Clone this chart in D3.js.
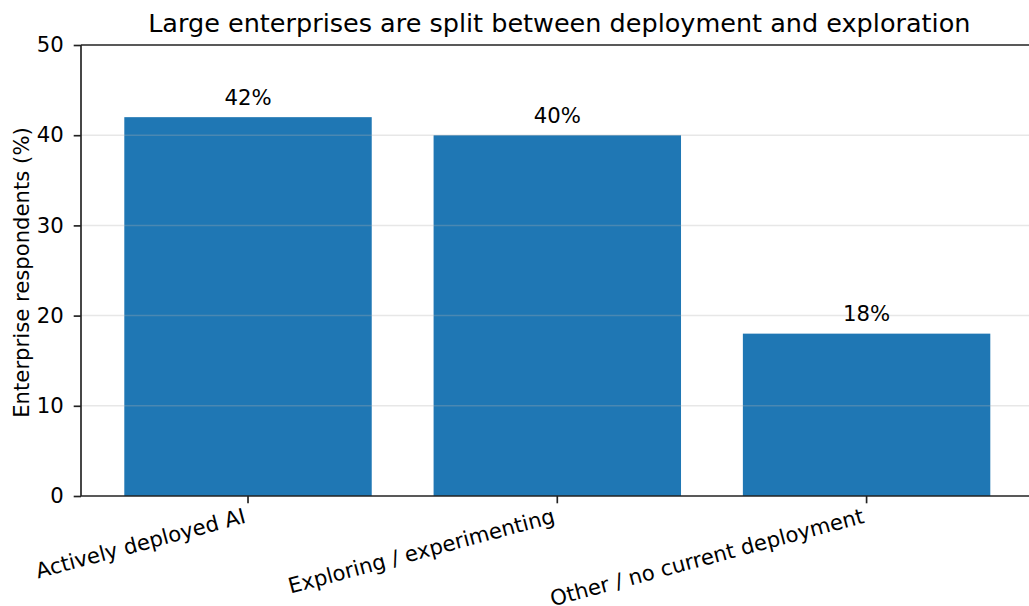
<!DOCTYPE html>
<html>
<head>
<meta charset="utf-8">
<script src="https://cdn.jsdelivr.net/npm/d3@7"></script>
<style>
  body { margin: 0; background: #fff; }
  svg { display: block; font-family: "DejaVu Sans", sans-serif; }
</style>
</head>
<body>
<svg id="chart" width="1029" height="606"></svg>
<script>
// values
var categories = ["Actively deployed AI", "Exploring / experimenting", "Other / no current deployment"];
var values = [42, 40, 18];
var yTicks = [0, 10, 20, 30, 40, 50];
var title = "Large enterprises are split between deployment and exploration";
var yLabel = "Enterprise respondents (%)";

(function () {
  var margin = { top: 45, left: 81 },
    width = 952.6,
    height = 451;

  var svg = d3.select("#chart");
  var chart = svg.append("g").attr("transform", `translate(${margin.left}, ${margin.top})`);

  var x = d3.scaleBand()
    .domain(categories)
    .range([0, width])
    .paddingInner(0.2)
    .paddingOuter(0.14);

  var y = d3.scaleLinear().domain([0, 50]).range([height, 0]);

  // bars
  chart.append("g")
    .selectAll("rect")
    .data(values)
    .join("rect")
    .attr("x", (d, i) => x(categories[i]))
    .attr("y", (d) => y(d))
    .attr("width", x.bandwidth())
    .attr("height", (d) => height - y(d))
    .attr("fill", "#1f77b4");

  // grid on top of bars, faint
  chart.append("g")
    .selectAll("line")
    .data(yTicks.filter((t) => t > 0 && t < 50))
    .join("line")
    .attr("x1", 0)
    .attr("x2", width)
    .attr("y1", (d) => y(d))
    .attr("y2", (d) => y(d))
    .attr("stroke", "#b0b0b0")
    .attr("stroke-opacity", 0.3)
    .attr("stroke-width", 1.5);

  // value labels
  chart.append("g")
    .selectAll("text")
    .data(values)
    .join("text")
    .attr("x", (d, i) => x(categories[i]) + x.bandwidth() / 2)
    .attr("y", (d) => y(d) - 12.5)
    .attr("text-anchor", "middle")
    .attr("font-size", "21.2px")
    .attr("fill", "#000")
    .text((d) => d + "%");

  // y axis
  var yAxis = chart.append("g")
    .call(d3.axisLeft(y).tickValues(yTicks).tickSize(7.3).tickPadding(10))
    .call((g) => g.select(".domain").remove());
  yAxis.selectAll(".tick line").attr("stroke", "#222").attr("stroke-width", 1.67);
  yAxis.selectAll(".tick text")
    .attr("font-size", "21.2px")
    .attr("font-family", "DejaVu Sans")
    .attr("fill", "#000");

  // x axis, labels tilted 15deg and right-aligned to the tick
  var xAxis = chart.append("g")
    .attr("transform", `translate(0, ${height})`)
    .call(d3.axisBottom(x).tickSize(7.3).tickSizeOuter(0))
    .call((g) => g.select(".domain").remove());
  xAxis.selectAll(".tick line").attr("stroke", "#222").attr("stroke-width", 1.67);
  xAxis.selectAll(".tick text")
    .attr("font-size", "21.2px")
    .attr("font-family", "DejaVu Sans")
    .attr("fill", "#000")
    .attr("text-anchor", "end")
    .attr("y", null)
    .attr("dy", null)
    .attr("transform", "translate(-1.3, 26.5) rotate(-15)");

  // spines: left, bottom, top
  var spine = chart.append("g").attr("stroke", "#222").attr("stroke-width", 1.67);
  spine.append("line").attr("x1", 0).attr("x2", 0).attr("y1", 0).attr("y2", height);
  spine.append("line").attr("x1", 0).attr("x2", width).attr("y1", height).attr("y2", height);
  spine.append("line").attr("x1", 0).attr("x2", width).attr("y1", 0).attr("y2", 0);

  // title
  svg.append("text")
    .attr("x", margin.left + width / 2 + 2)
    .attr("y", 31.5)
    .attr("text-anchor", "middle")
    .attr("font-size", "25.5px")
    .attr("fill", "#000")
    .text(title);

  // y axis title
  svg.append("text")
    .attr("transform", `translate(29, ${margin.top + height / 2 + 2}) rotate(-90)`)
    .attr("text-anchor", "middle")
    .attr("font-size", "21.2px")
    .attr("fill", "#000")
    .text(yLabel);
})();
</script>
</body>
</html>
